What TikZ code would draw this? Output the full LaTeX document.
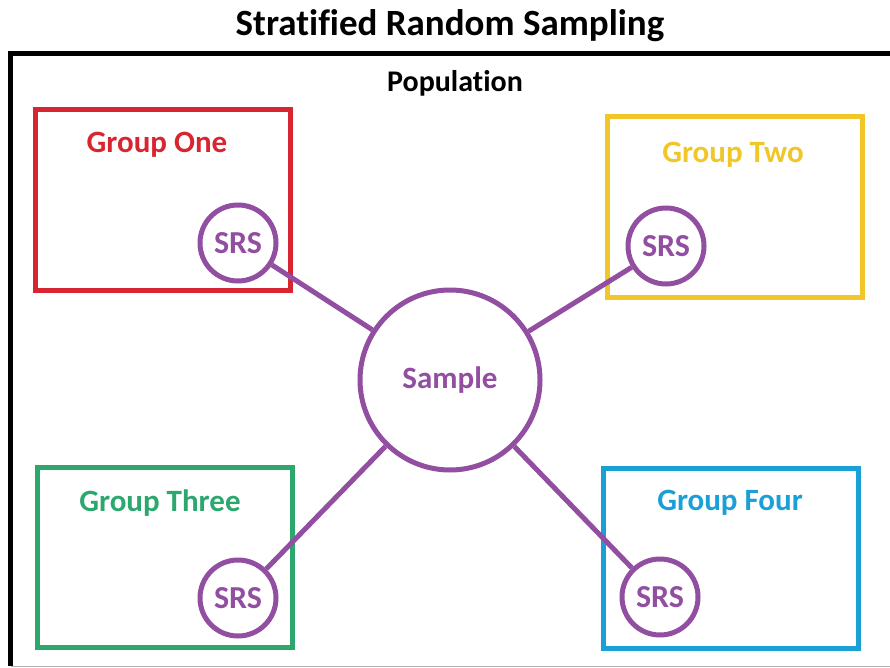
\documentclass[tikz,border=0pt]{standalone}
\usepackage{fontspec}
\setmainfont[Ligatures=NoCommon]{Carlito}
\definecolor{gred}{RGB}{216,38,48}
\definecolor{gyellow}{RGB}{240,198,40}
\definecolor{ggreen}{RGB}{44,168,110}
\definecolor{gblue}{RGB}{26,160,214}
\definecolor{gpurple}{RGB}{146,78,160}
\begin{document}
\begin{tikzpicture}[x=1pt,y=-1pt,
  groupbox/.style={draw, line width=5pt, minimum width=255pt, minimum height=180pt, inner sep=0pt},
  grouplabel/.style={font=\fontsize{31}{33}\selectfont\bfseries, inner sep=0pt},
  srs/.style={circle, draw=gpurple, line width=5pt, minimum size=76pt, inner sep=0pt, text=gpurple, font=\fontsize{32}{34}\selectfont\bfseries},
  link/.style={draw=gpurple, line width=5pt}]
\useasboundingbox (0,0) rectangle (890,668);
\fill[white] (0,0) rectangle (890,668);
% title
\node[font=\fontsize{37}{39}\selectfont\bfseries, inner sep=0pt] (title) at (450,26) {Stratified Random Sampling};
% population frame
\draw[line width=5pt] (900,53.5) -- (10.5,53.5) -- (10.5,666);
\draw[line width=1pt, black!30] (10.5,666.5) -- (900,666.5);
\node[font=\fontsize{30}{32}\selectfont\bfseries, inner sep=0pt] (pop) at (455,83) {Population};
% groups
\node[groupbox, draw=gred] (g1) at (162.5,200) {};
\node[grouplabel, text=gred] (l1) at (157,145) {Group One};
\node[groupbox, draw=gyellow] (g2) at (734.5,207) {};
\node[grouplabel, text=gyellow] (l2) at (733,155) {Group Two};
\node[groupbox, draw=ggreen] (g3) at (164.5,557) {};
\node[grouplabel, text=ggreen] (l3) at (160,503) {Group Three};
\node[groupbox, draw=gblue] (g4) at (731,558) {};
\node[grouplabel, text=gblue] (l4) at (730,503) {Group Four};
% sample
\node[srs, minimum size=180pt, fill=white, font=\fontsize{31}{33}\selectfont\bfseries] (sample) at (450,380) {Sample};
% SRS circles
\node[srs, fill=white] (s1) at (238,243) {SRS};
\node[srs, fill=white] (s2) at (666,246) {SRS};
\node[srs, fill=white] (s3) at (238,598) {SRS};
\node[srs, fill=white] (s4) at (660,597) {SRS};
% links
\draw[link] (s1) -- (sample);
\draw[link] (s2) -- (sample);
\draw[link] (s3) -- (sample);
\draw[link] (s4) -- (sample);
\end{tikzpicture}
\end{document}
